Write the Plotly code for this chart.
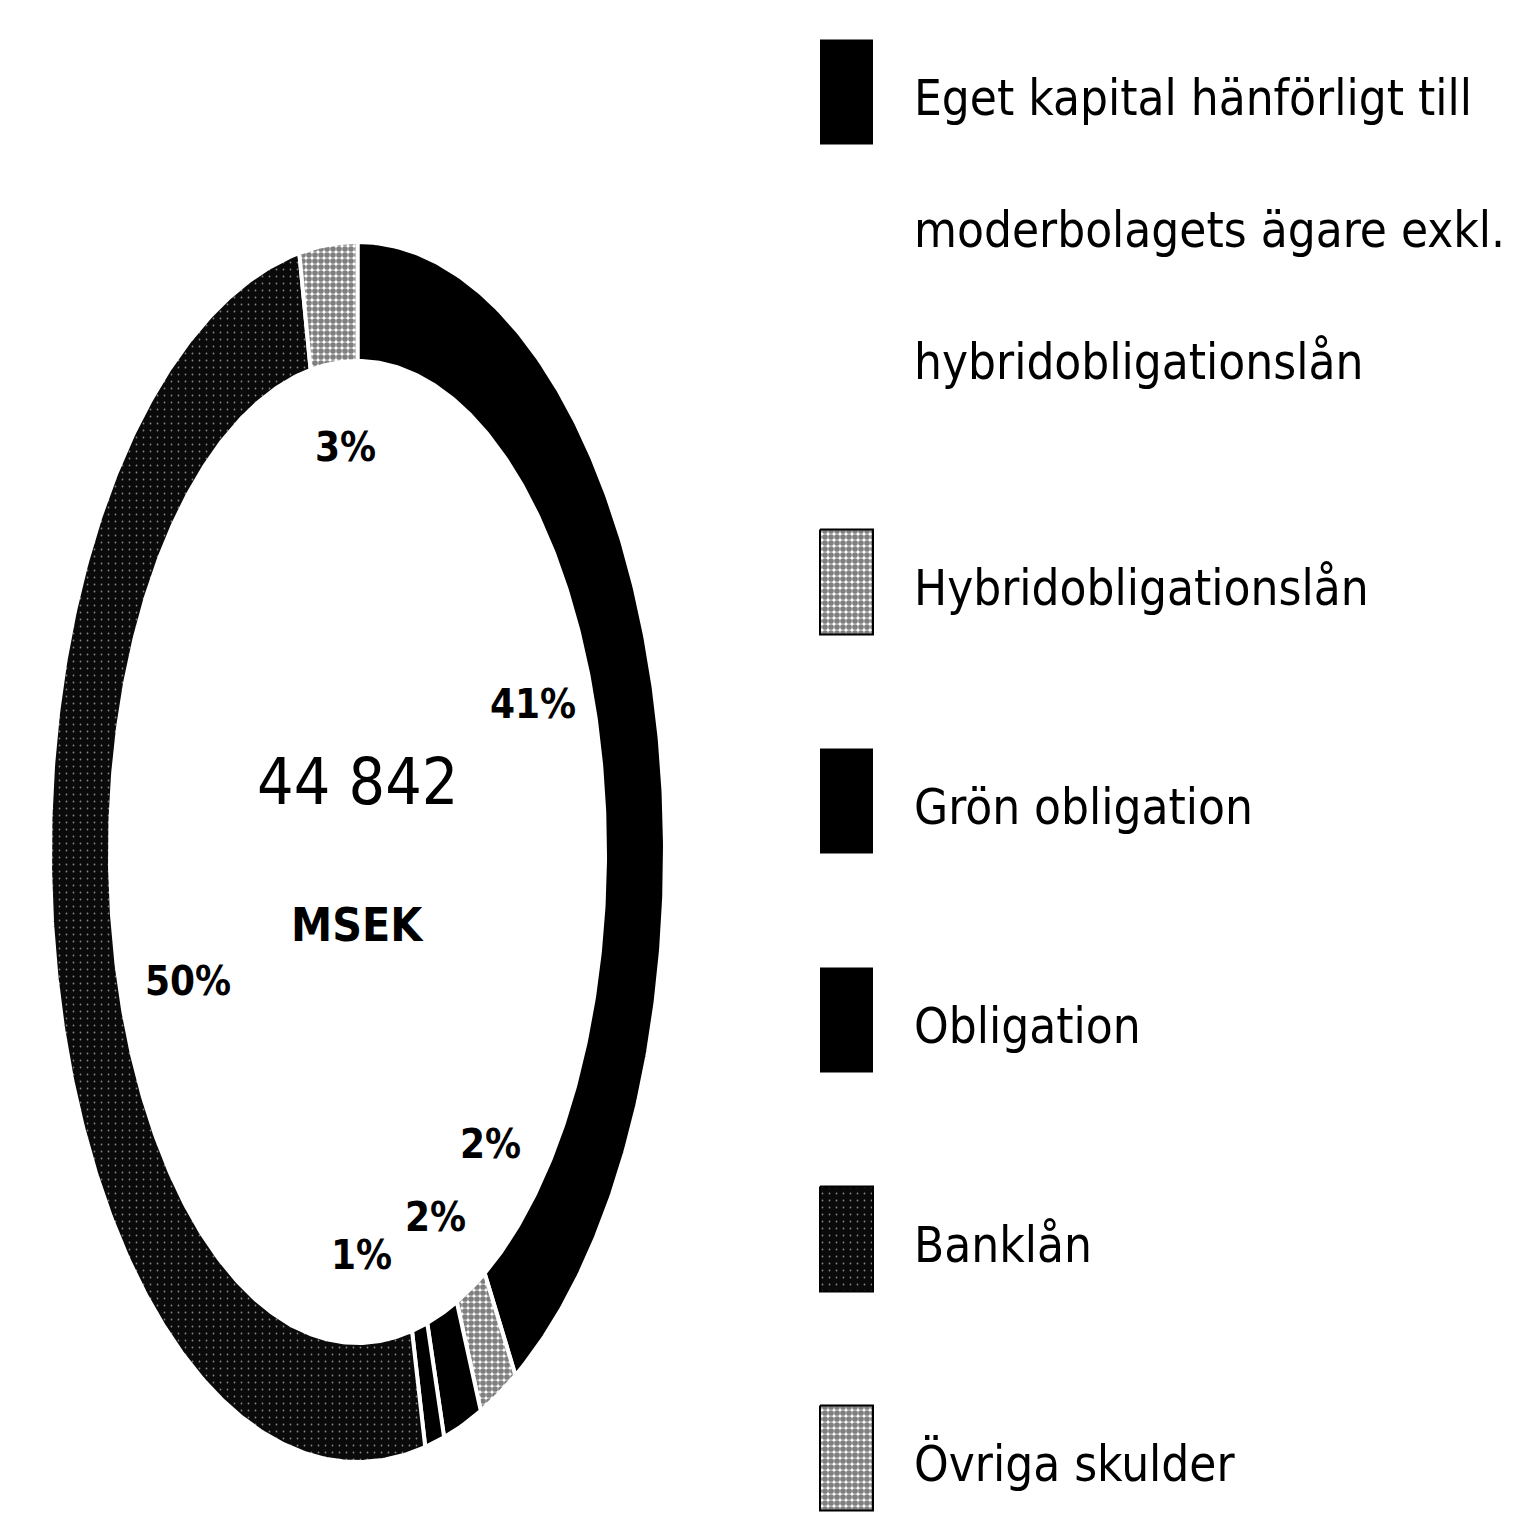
import math
import plotly.graph_objects as go

# ---- data -------------------------------------------------------------
TOTAL_MSEK = 44842
UNIT = "MSEK"

# legend order
CATEGORIES = [
    "Eget kapital hänförligt till\nmoderbolagets ägare exkl.\nhybridobligationslån",
    "Hybridobligationslån",
    "Grön obligation",
    "Obligation",
    "Banklån",
    "Övriga skulder",
]
SHARE_PCT = [41, 3, 1, 2, 50, 2]

# order of the slices, clockwise from 12 o'clock (indices into CATEGORIES)
RING_ORDER = [0, 5, 3, 2, 4, 1]

# ---- styling ----------------------------------------------------------
FONT = "Liberation Sans Narrow, Arial Narrow, DejaVu Sans Condensed, Liberation Sans, sans-serif"

STYLES = [
    dict(fillcolor="#000000"),
    dict(fillcolor="#ffffff", fillpattern=dict(shape=".", fgcolor="#000000", bgcolor="#ffffff",
                                                size=6, solidity=0.7)),
    dict(fillcolor="#000000"),
    dict(fillcolor="#000000"),
    dict(fillcolor="#0a0a0a", fillpattern=dict(shape=".", fgcolor="#ffffff", bgcolor="#0a0a0a",
                                                size=7, solidity=0.05)),
    dict(fillcolor="#ffffff", fillpattern=dict(shape=".", fgcolor="#000000", bgcolor="#ffffff",
                                                size=6, solidity=0.72)),
]

R_OUT, R_IN = 1.0, 0.805
# percent-label placement (angle clockwise from top in degrees, radius)
LABEL_POS = [(67, 0.62), (356.5, 0.665), (179, 0.66), (157, 0.65), (249, 0.59), (138, 0.645)]

W = H = 1516
CX_PX, CY_PX = 357.5, 852.0      # ring centre on the page
RX_PX, RY_PX = 307.5, 610.0      # pixels per data unit on each axis


def arc(t0, t1, r, n):
    pts = [t0 + (t1 - t0) * k / n for k in range(n + 1)]
    return ([r * math.sin(math.radians(t)) for t in pts],
            [r * math.cos(math.radians(t)) for t in pts])


fig = go.Figure()

total = sum(SHARE_PCT)
start = 0.0
for idx in RING_ORDER:
    sweep = 360.0 * SHARE_PCT[idx] / total
    n = max(6, int(sweep * 2))
    xo, yo = arc(start, start + sweep, R_OUT, n)
    xi, yi = arc(start + sweep, start, R_IN, n)
    fig.add_trace(go.Scatter(
        x=xo + xi + [xo[0]], y=yo + yi + [yo[0]],
        mode="lines", fill="toself",
        line=dict(color="#ffffff", width=4),
        name=CATEGORIES[idx].replace("\n", " "),
        hoverinfo="name",
        **STYLES[idx],
    ))
    start += sweep

# percent labels
for idx, (ang, r) in enumerate(LABEL_POS):
    fig.add_annotation(
        x=r * math.sin(math.radians(ang)), y=r * math.cos(math.radians(ang)),
        xref="x", yref="y", text=f"{SHARE_PCT[idx]}%", showarrow=False,
        font=dict(family=FONT, size=40, color="#000000", weight="bold"),
    )

# total in the hole
fig.add_annotation(x=0, y=(CY_PX - 782) / RY_PX, xref="x", yref="y",
                   text=f"{TOTAL_MSEK:,}".replace(",", " "), showarrow=False,
                   font=dict(family=FONT, size=64, color="#000000"))
fig.add_annotation(x=0, y=(CY_PX - 925) / RY_PX, xref="x", yref="y",
                   text=UNIT, showarrow=False,
                   font=dict(family=FONT, size=46, color="#000000", weight="bold"))

# ---- legend drawn on a page-pixel overlay axis ------------------------
SW_X0, SW_W, SW_H = 820, 53, 105
TEXT_X = 912
centers = [92] + [582 + 219 * k for k in range(len(CATEGORIES) - 1)]
LINE_PITCH = 132

for i, label in enumerate(CATEGORIES):
    c = centers[i]
    y0, y1 = c - SW_H / 2, c + SW_H / 2
    patterned = "fillpattern" in STYLES[i]
    fig.add_trace(go.Scatter(
        x=[SW_X0, SW_X0 + SW_W, SW_X0 + SW_W, SW_X0, SW_X0],
        y=[y0, y0, y1, y1, y0],
        xaxis="x2", yaxis="y2", mode="lines", fill="toself",
        line=dict(color="#000000", width=2 if patterned else 0),
        hoverinfo="skip", showlegend=False,
        **STYLES[i],
    ))
    for j, line in enumerate(label.split("\n")):
        fig.add_annotation(
            x=TEXT_X, y=c + 6 + j * LINE_PITCH, xref="x2", yref="y2",
            text=line, showarrow=False, xanchor="left", yanchor="middle",
            font=dict(family=FONT, size=49, color="#000000"),
        )

fig.update_layout(
    width=W, height=H,
    margin=dict(l=0, r=0, t=0, b=0),
    paper_bgcolor="#ffffff", plot_bgcolor="#ffffff",
    showlegend=False,
    xaxis=dict(range=[-CX_PX / RX_PX, (W - CX_PX) / RX_PX], visible=False, fixedrange=True),
    yaxis=dict(range=[-(H - CY_PX) / RY_PX, CY_PX / RY_PX], visible=False, fixedrange=True),
    xaxis2=dict(range=[0, W], overlaying="x", visible=False, fixedrange=True),
    yaxis2=dict(range=[H, 0], overlaying="y", visible=False, fixedrange=True),
)

fig.write_html("out.html")
